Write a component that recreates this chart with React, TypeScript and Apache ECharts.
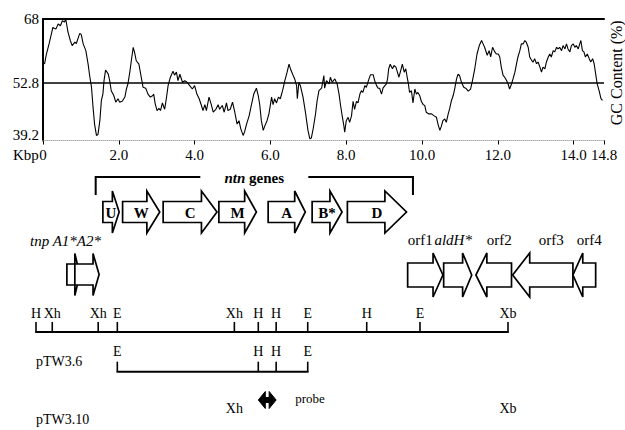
import React, { useEffect, useRef } from "react";
import * as echarts from "echarts";

// ---------- GC content profile (kbp, %GC) ----------
const KBP_1 = [0.04,0.09,0.16,0.22,0.26,0.34,0.40,0.46,0.51,0.57,0.60,0.66,0.72,0.77,0.84,0.88,0.92,0.97,1.01,1.06,1.13,1.19,1.23,1.28,1.32,1.36,1.41,1.45,1.50,1.54,1.58,1.61,1.65,1.72,1.76,1.80,1.87,1.92,1.98,2.02,2.09,2.16,2.20,2.24,2.29,2.33,2.38,2.42,2.46,2.53,2.60,2.64,2.71,2.77,2.83,2.89,2.92,2.96,3.01,3.06,3.10,3.15,3.21,3.26,3.30,3.36,3.43,3.47,3.52,3.56,3.61,3.68,3.74];
const GC_1 = [57.3,59.7,62.1,64.4,66.0,65.6,66.8,66.4,67.6,67.3,68.0,64.9,62.9,61.7,62.5,62.2,63.3,64.6,64.3,62.1,60.5,57.3,54.6,51.8,47.1,43.1,40.4,40.6,43.9,48.7,50.2,53.4,55.9,55.0,53.4,51.0,49.8,48.3,49.1,48.3,48.5,49.5,51.4,52.6,55.4,58.1,61.3,59.9,58.1,57.3,53.8,51.8,51.6,50.2,49.5,49.8,50.2,47.9,46.3,46.8,46.3,48.1,46.6,49.5,52.2,54.2,55.6,54.7,55.4,53.4,54.9,53.0,53.4];
const KBP_2 = [3.80,3.87,3.94,4.00,4.06,4.12,4.18,4.22,4.27,4.31,4.38,4.44,4.49,4.56,4.62,4.66,4.73,4.78,4.84,4.88,4.94,5.00,5.06,5.12,5.17,5.22,5.28,5.32,5.37,5.44,5.50,5.56,5.63,5.68,5.72,5.76,5.81,5.85,5.91,5.96,6.00,6.03,6.07,6.11,6.16,6.21,6.26,6.32,6.38,6.44,6.49,6.54,6.60,6.64,6.69,6.71,6.75,6.79,6.86,6.93,6.99,7.04,7.08,7.13,7.19,7.23,7.28,7.35,7.41];
const GC_2 = [53.0,52.2,51.4,52.2,50.2,49.1,47.5,46.3,47.7,46.3,49.5,47.7,45.9,46.6,47.7,46.6,47.5,45.9,48.1,46.3,46.6,48.3,45.9,43.1,43.9,41.9,40.4,41.3,43.1,45.1,47.7,50.2,51.6,49.8,47.5,43.9,41.6,42.6,43.9,45.5,47.7,49.5,47.7,49.1,48.1,49.5,49.1,51.0,53.4,55.4,57.3,55.9,54.6,53.8,52.2,49.1,53.0,52.2,49.5,45.5,41.6,39.6,39.8,42.1,45.5,48.5,51.0,51.6,54.6];
const KBP_3 = [7.43,7.48,7.55,7.58,7.63,7.70,7.76,7.81,7.85,7.90,7.93,7.96,8.00,8.05,8.09,8.14,8.18,8.22,8.27,8.31,8.36,8.40,8.44,8.49,8.53,8.60,8.64,8.71,8.75,8.80,8.84,8.88,8.93,8.97,9.02,9.06,9.09,9.12,9.16,9.22,9.26,9.31,9.35,9.39,9.44,9.48,9.53,9.57,9.60,9.64,9.67,9.72,9.76,9.81,9.85,9.89,9.94,9.98,10.03,10.07,10.11,10.18,10.25,10.31,10.38,10.42,10.47,10.51,10.55,10.60,10.64,10.69,10.73,10.77,10.82,10.86,10.91,10.95,10.99,11.04,11.10];
const GC_3 = [51.6,53.4,52.6,54.2,53.0,53.8,52.6,50.2,47.5,44.7,43.1,41.2,43.9,44.7,43.5,45.1,48.5,46.6,48.5,48.1,50.2,51.0,50.6,52.2,51.8,53.8,54.8,54.8,53.4,52.2,51.6,51.6,50.2,51.6,52.2,52.6,53.8,56.2,57.3,56.2,57.0,56.6,55.4,54.2,55.9,57.3,55.4,56.2,54.6,52.6,50.6,51.0,48.1,51.4,50.2,50.6,49.8,48.5,47.7,47.5,45.9,45.5,45.5,45.1,44.7,43.1,41.6,42.6,43.9,44.3,43.5,45.5,46.8,48.5,49.8,51.4,53.8,54.9,54.6,53.0,51.8];
const KBP_4 = [11.15,11.22,11.28,11.33,11.39,11.45,11.51,11.57,11.61,11.65,11.72,11.77,11.81,11.86,11.92,11.96,12.01,12.05,12.09,12.14,12.18,12.23,12.27,12.31,12.36,12.40,12.45,12.49,12.53,12.58,12.62,12.67,12.71,12.75,12.80,12.84,12.89,12.93,12.97,13.02,13.06,13.11,13.15,13.19,13.24,13.28,13.33,13.37,13.41,13.46,13.50,13.55,13.59,13.63,13.68,13.72,13.77,13.81,13.85,13.90,13.94,13.99,14.03,14.07,14.12,14.16,14.19,14.23,14.27,14.31,14.36,14.41,14.45,14.50,14.54,14.58,14.62,14.67,14.72,14.76];
const GC_4 = [51.6,50.9,51.4,53.4,56.2,59.7,61.7,62.9,62.1,61.3,59.4,60.5,59.0,61.3,60.2,59.7,59.7,59.0,56.6,54.6,54.2,53.4,52.6,51.4,52.6,53.8,55.4,57.3,59.0,60.5,62.1,62.1,62.9,62.5,61.3,59.0,58.2,57.8,58.6,57.4,57.8,56.6,55.4,56.6,56.2,57.8,59.0,59.7,59.0,60.5,60.2,61.3,60.9,61.3,60.5,61.7,60.9,62.1,60.9,60.2,61.7,62.1,61.3,61.7,60.9,62.1,62.9,60.5,60.2,59.0,59.7,58.6,57.8,58.6,57.4,55.0,52.6,51.0,49.1,48.7];

const KBP = [...KBP_1, ...KBP_2, ...KBP_3, ...KBP_4];
const GC = [...GC_1, ...GC_2, ...GC_3, ...GC_4];
const GC_MEAN = 52.8;
const GC_MIN = 39.2;
const GC_MAX = 68;
const GC_TICKS = [39.2, 52.8, 68];
const KBP_MAX = 14.8;
const KBP_STEP = 2;

// ---------- genes (kbp: tail, head base, tip) ----------
const NTN_NAMES = ["U", "W", "C", "M", "A", "B*", "D"];
const NTN_TAIL = [1.58, 2.10, 3.17, 4.64, 5.94, 7.10, 8.03];
const NTN_BASE = [1.83, 2.74, 4.18, 5.32, 6.64, 7.57, 9.02];
const NTN_TIP = [2.01, 3.08, 4.59, 5.63, 6.92, 7.89, 9.59];
const NTN_SPAN = [1.39, 9.76];

const TNP_NAMES = ["A1*", "A2*"];
const TNP_TAIL = [0.63, 0.84];
const TNP_BASE = [0.84, 1.32];
const TNP_TIP = [0.97, 1.48];

const ORF_NAMES = ["orf1", "{i|aldH*}", "orf2", "orf3", "orf4"];
const ORF_TAIL = [9.62, 10.57, 12.36, 13.98, 14.58];
const ORF_BASE = [10.29, 11.07, 11.71, 12.84, 14.24];
const ORF_TIP = [10.55, 11.31, 11.42, 12.39, 13.98];

// ---------- restriction map (map kbp) ----------
const MAP_LEN = 14.8;
const MAP_SITES = [0, 0.51, 1.95, 2.55, 6.22, 6.97, 7.53, 8.52, 10.37, 12.04, 14.8];
const MAP_LABELS = ["H", "Xh", "Xh", "E", "Xh", "H", "H", "E", "H", "E", "Xb"];
const PTW36_SITES = [2.55, 6.97, 7.53, 8.52];
const PTW36_LABELS = ["E", "H", "H", "E"];
const PTW310_SITES = [6.22, 14.8];
const PTW310_LABELS = ["Xh", "Xb"];
const PROBE = [6.97, 7.53];

// ---------- layout ----------
const SERIF = '"Liberation Serif", "Times New Roman", serif';
const GENE_H = 150;
const NTN_ROW = 47;
const BRACKET_TOP = 12;
const BRACKET_BOTTOM = 30;
const TNP_ROW = 109.5;
const ORF_ROW = 110;
const MAP_H = 125;
const MAP_ROW = 32;
const PTW36_ROW = 71.7;
const PTW310_ROW = 108.3;
const PROBE_ROW = 100;

const arrowRenderer = (row: number, bodyHalf: number, headHalf: number, names: string[], mode: string) =>
  (params: any, api: any) => {
    const t = api.coord([api.value(0), row]);
    const b = api.coord([api.value(1), row]);
    const p = api.coord([api.value(2), row]);
    const cy = t[1];
    const pts = [
      [t[0], cy - bodyHalf], [b[0], cy - bodyHalf], [b[0], cy - headHalf], [p[0], cy],
      [b[0], cy + headHalf], [b[0], cy + bodyHalf], [t[0], cy + bodyHalf],
    ];
    const children: any[] = [
      { type: "polygon", shape: { points: pts }, style: { fill: "#fff", stroke: "#000", lineWidth: 1.7, lineJoin: "miter" } },
    ];
    const name = names[params.dataIndex];
    if (mode === "inside") {
      children.push({
        type: "text",
        style: { text: name, x: (t[0] + p[0]) / 2, y: cy + 1, align: "center", verticalAlign: "middle", textAlign: "center", textVerticalAlign: "middle", font: `bold 15px ${SERIF}`, fill: "#000" },
      });
    } else if (mode === "above") {
      children.push({
        type: "text",
        style: {
          text: name, x: (t[0] + b[0]) / 2, y: cy - 35, align: "center", verticalAlign: "middle", textAlign: "center", textVerticalAlign: "middle",
          font: `15px ${SERIF}`, fill: "#000",
          rich: { i: { fontStyle: "italic", fontSize: 15, fontFamily: SERIF, fill: "#000" } },
        },
      });
    }
    return { type: "group", children };
  };

const siteRenderer = (row: number, tickLen: number, labelDy: number, labels: string[]) =>
  (params: any, api: any) => {
    const q = api.coord([api.value(0), row]);
    const children: any[] = [];
    if (tickLen > 0) {
      children.push({ type: "line", shape: { x1: q[0], y1: q[1] - tickLen, x2: q[0], y2: q[1] }, style: { stroke: "#000", lineWidth: 1.6 } });
    }
    children.push({
      type: "text",
      style: { text: labels[params.dataIndex], x: q[0], y: q[1] + labelDy, align: "center", verticalAlign: "middle", textAlign: "center", textVerticalAlign: "middle", font: `14px ${SERIF}`, fill: "#000" },
    });
    return { type: "group", children };
  };

const segRenderer = (row: number) => (params: any, api: any) => {
  const a = api.coord([api.value(0), row]);
  const b = api.coord([api.value(1), row]);
  return { type: "line", shape: { x1: a[0] - 0.8, y1: a[1], x2: b[0] + 0.8, y2: b[1] }, style: { stroke: "#000", lineWidth: 2 } };
};

export default function App() {
  const ref = useRef<HTMLDivElement>(null);
  useEffect(() => {
    if (!ref.current) return;
    const chart = echarts.init(ref.current, undefined, { renderer: "svg" });
    const axisText = { fontFamily: SERIF, fontSize: 15, color: "#000" };
    const option: any = {
      animation: false,
      backgroundColor: "#fff",
      grid: [
        { left: 43, top: 19, width: 561, height: 121.5, containLabel: false, outerBoundsMode: "none" },
        { left: 43, top: 165, width: 561, height: GENE_H, containLabel: false, outerBoundsMode: "none" },
        { left: 36, top: 300, width: 472, height: MAP_H, containLabel: false, outerBoundsMode: "none" },
      ],
      xAxis: [
        {
          gridIndex: 0, type: "value", min: 0, max: KBP_MAX, interval: KBP_STEP, position: "bottom",
          axisLine: { show: true, lineStyle: { color: "#aaa", width: 1, type: "dotted" } },
          axisTick: { show: true, length: 4, lineStyle: { color: "#000", width: 1 } },
          axisLabel: { ...axisText, margin: 7, formatter: (v: number) => (v === 0 ? "0" : v.toFixed(1)) },
          splitLine: { show: false },
        },
        {
          gridIndex: 0, type: "value", min: 0, max: KBP_MAX, position: "top",
          axisLine: { show: true, lineStyle: { color: "#000", width: 2.2 } },
          axisTick: { show: false }, axisLabel: { show: false }, splitLine: { show: false },
        },
        { gridIndex: 1, type: "value", min: 0, max: KBP_MAX, show: false },
        { gridIndex: 2, type: "value", min: 0, max: MAP_LEN, show: false },
      ],
      yAxis: [
        {
          gridIndex: 0, type: "value", min: GC_MIN, max: GC_MAX, position: "left",
          axisLine: { show: true, lineStyle: { color: "#bbb", width: 1, type: "dotted" } },
          axisTick: { show: false },
          axisLabel: {
            ...axisText, margin: 4, customValues: GC_TICKS,
            formatter: (v: number) => (v === GC_MIN ? `{low|${v.toFixed(1)}}` : v === GC_MAX ? String(v) : v.toFixed(1)),
            rich: { low: { ...axisText, padding: [0, 0, 12, 0] } },
          },
          splitLine: { show: false },
        },
        {
          gridIndex: 0, type: "value", min: GC_MIN, max: GC_MAX, position: "right",
          axisLine: { show: true, lineStyle: { color: "#000", width: 2 } },
          axisTick: { show: false }, axisLabel: { show: false }, splitLine: { show: false },
          name: "GC Content (%)", nameLocation: "middle", nameRotate: 90, nameGap: 4,
          nameTextStyle: { fontFamily: SERIF, fontSize: 16, color: "#000", padding: [0, 0, 0, 14] },
        },
        { gridIndex: 1, type: "value", min: 0, max: GENE_H, inverse: true, show: false },
        { gridIndex: 2, type: "value", min: 0, max: MAP_H, inverse: true, show: false },
      ],
      series: [
        {
          type: "line", xAxisIndex: 0, yAxisIndex: 0, showSymbol: false, symbol: "none",
          data: KBP.map((k, i) => [k, GC[i]]),
          lineStyle: { color: "#000", width: 1.1 },
          markLine: {
            silent: true, symbol: "none", label: { show: false },
            lineStyle: { color: "#000", width: 1.5, type: "solid" },
            data: [{ yAxis: GC_MEAN }],
          },
        },
        {
          type: "custom", xAxisIndex: 2, yAxisIndex: 2,
          data: [[NTN_SPAN[0], NTN_SPAN[1]]],
          renderItem: (params: any, api: any) => {
            const l = api.coord([api.value(0), BRACKET_TOP]);
            const r = api.coord([api.value(1), BRACKET_TOP]);
            const bot = api.coord([api.value(0), BRACKET_BOTTOM])[1];
            const cx = (l[0] + r[0]) / 2;
            const gap = 54;
            return {
              type: "group",
              children: [
                { type: "polyline", shape: { points: [[l[0], bot], [l[0], l[1]], [cx - gap, l[1]]] }, style: { stroke: "#000", lineWidth: 2, fill: "none" } },
                { type: "polyline", shape: { points: [[cx + gap, r[1]], [r[0], r[1]], [r[0], bot]] }, style: { stroke: "#000", lineWidth: 2, fill: "none" } },
                {
                  type: "text",
                  style: {
                    text: "{i|ntn} genes", x: cx, y: l[1] + 1, align: "center", verticalAlign: "middle", textAlign: "center", textVerticalAlign: "middle",
                    font: `bold 15px ${SERIF}`, fill: "#000",
                    rich: { i: { fontStyle: "italic", fontWeight: "bold", fontSize: 15, fontFamily: SERIF, fill: "#000" } },
                  },
                },
              ],
            };
          },
        },
        {
          type: "custom", xAxisIndex: 2, yAxisIndex: 2,
          data: NTN_TAIL.map((t, i) => [t, NTN_BASE[i], NTN_TIP[i]]),
          renderItem: arrowRenderer(NTN_ROW, 10.5, 21, NTN_NAMES, "inside"),
        },
        {
          type: "custom", xAxisIndex: 2, yAxisIndex: 2,
          data: TNP_TAIL.map((t, i) => [t, TNP_BASE[i], TNP_TIP[i]]),
          renderItem: arrowRenderer(TNP_ROW, 10.5, 21, TNP_NAMES, "none"),
        },
        {
          type: "custom", xAxisIndex: 2, yAxisIndex: 2,
          data: ORF_TAIL.map((t, i) => [t, ORF_BASE[i], ORF_TIP[i]]),
          renderItem: arrowRenderer(ORF_ROW, 12, 22, ORF_NAMES, "above"),
        },
        {
          type: "custom", xAxisIndex: 3, yAxisIndex: 3,
          data: [[MAP_SITES[0], MAP_SITES[MAP_SITES.length - 1]]],
          renderItem: segRenderer(MAP_ROW),
        },
        {
          type: "custom", xAxisIndex: 3, yAxisIndex: 3,
          data: MAP_SITES.map((s) => [s, 0]),
          renderItem: siteRenderer(MAP_ROW, 10, -19, MAP_LABELS),
        },
        {
          type: "custom", xAxisIndex: 3, yAxisIndex: 3,
          data: [[PTW36_SITES[0], PTW36_SITES[PTW36_SITES.length - 1]]],
          renderItem: segRenderer(PTW36_ROW),
        },
        {
          type: "custom", xAxisIndex: 3, yAxisIndex: 3,
          data: PTW36_SITES.map((s) => [s, 0]),
          renderItem: siteRenderer(PTW36_ROW, 10, -20, PTW36_LABELS),
        },
        {
          type: "custom", xAxisIndex: 3, yAxisIndex: 3,
          data: PTW310_SITES.map((s) => [s, 0]),
          renderItem: siteRenderer(PTW310_ROW, 0, 0, PTW310_LABELS),
        },
        {
          type: "custom", xAxisIndex: 3, yAxisIndex: 3,
          data: [[PROBE[0], PROBE[1]]],
          renderItem: (params: any, api: any) => {
            const a = api.coord([api.value(0), PROBE_ROW]);
            const b = api.coord([api.value(1), PROBE_ROW]);
            const cy = a[1], l = a[0], r = b[0], h = 7, hh = 8.5, bh = 2.5;
            const pts = [[l, cy], [l + h, cy - hh], [l + h, cy - bh], [r - h, cy - bh], [r - h, cy - hh], [r, cy], [r - h, cy + hh], [r - h, cy + bh], [l + h, cy + bh], [l + h, cy + hh]];
            return {
              type: "group",
              children: [
                { type: "polygon", shape: { points: pts }, style: { fill: "#000", stroke: "#000", lineWidth: 1 } },
                { type: "text", style: { text: "probe", x: r + 19, y: cy - 2, align: "left", verticalAlign: "middle", textAlign: "left", textVerticalAlign: "middle", font: `13px ${SERIF}`, fill: "#000" } },
              ],
            };
          },
        },
      ],
      graphic: [
        { type: "text", left: 13, top: 147, style: { text: "Kbp", font: `15px ${SERIF}`, fill: "#000" } },
        { type: "text", left: 30, top: 233, style: { text: "tnp A1*A2*", font: `italic 15px ${SERIF}`, fill: "#000" } },
        { type: "text", left: 36, top: 354, style: { text: "pTW3.6", font: `14px ${SERIF}`, fill: "#000" } },
        { type: "text", left: 36, top: 412, style: { text: "pTW3.10", font: `14px ${SERIF}`, fill: "#000" } },
      ],
    };
    chart.setOption(option);
    return () => chart.dispose();
  }, []);
  return <div ref={ref} style={{ position: "absolute", left: 0, top: 0, width: 625, height: 430 }} />;
}
